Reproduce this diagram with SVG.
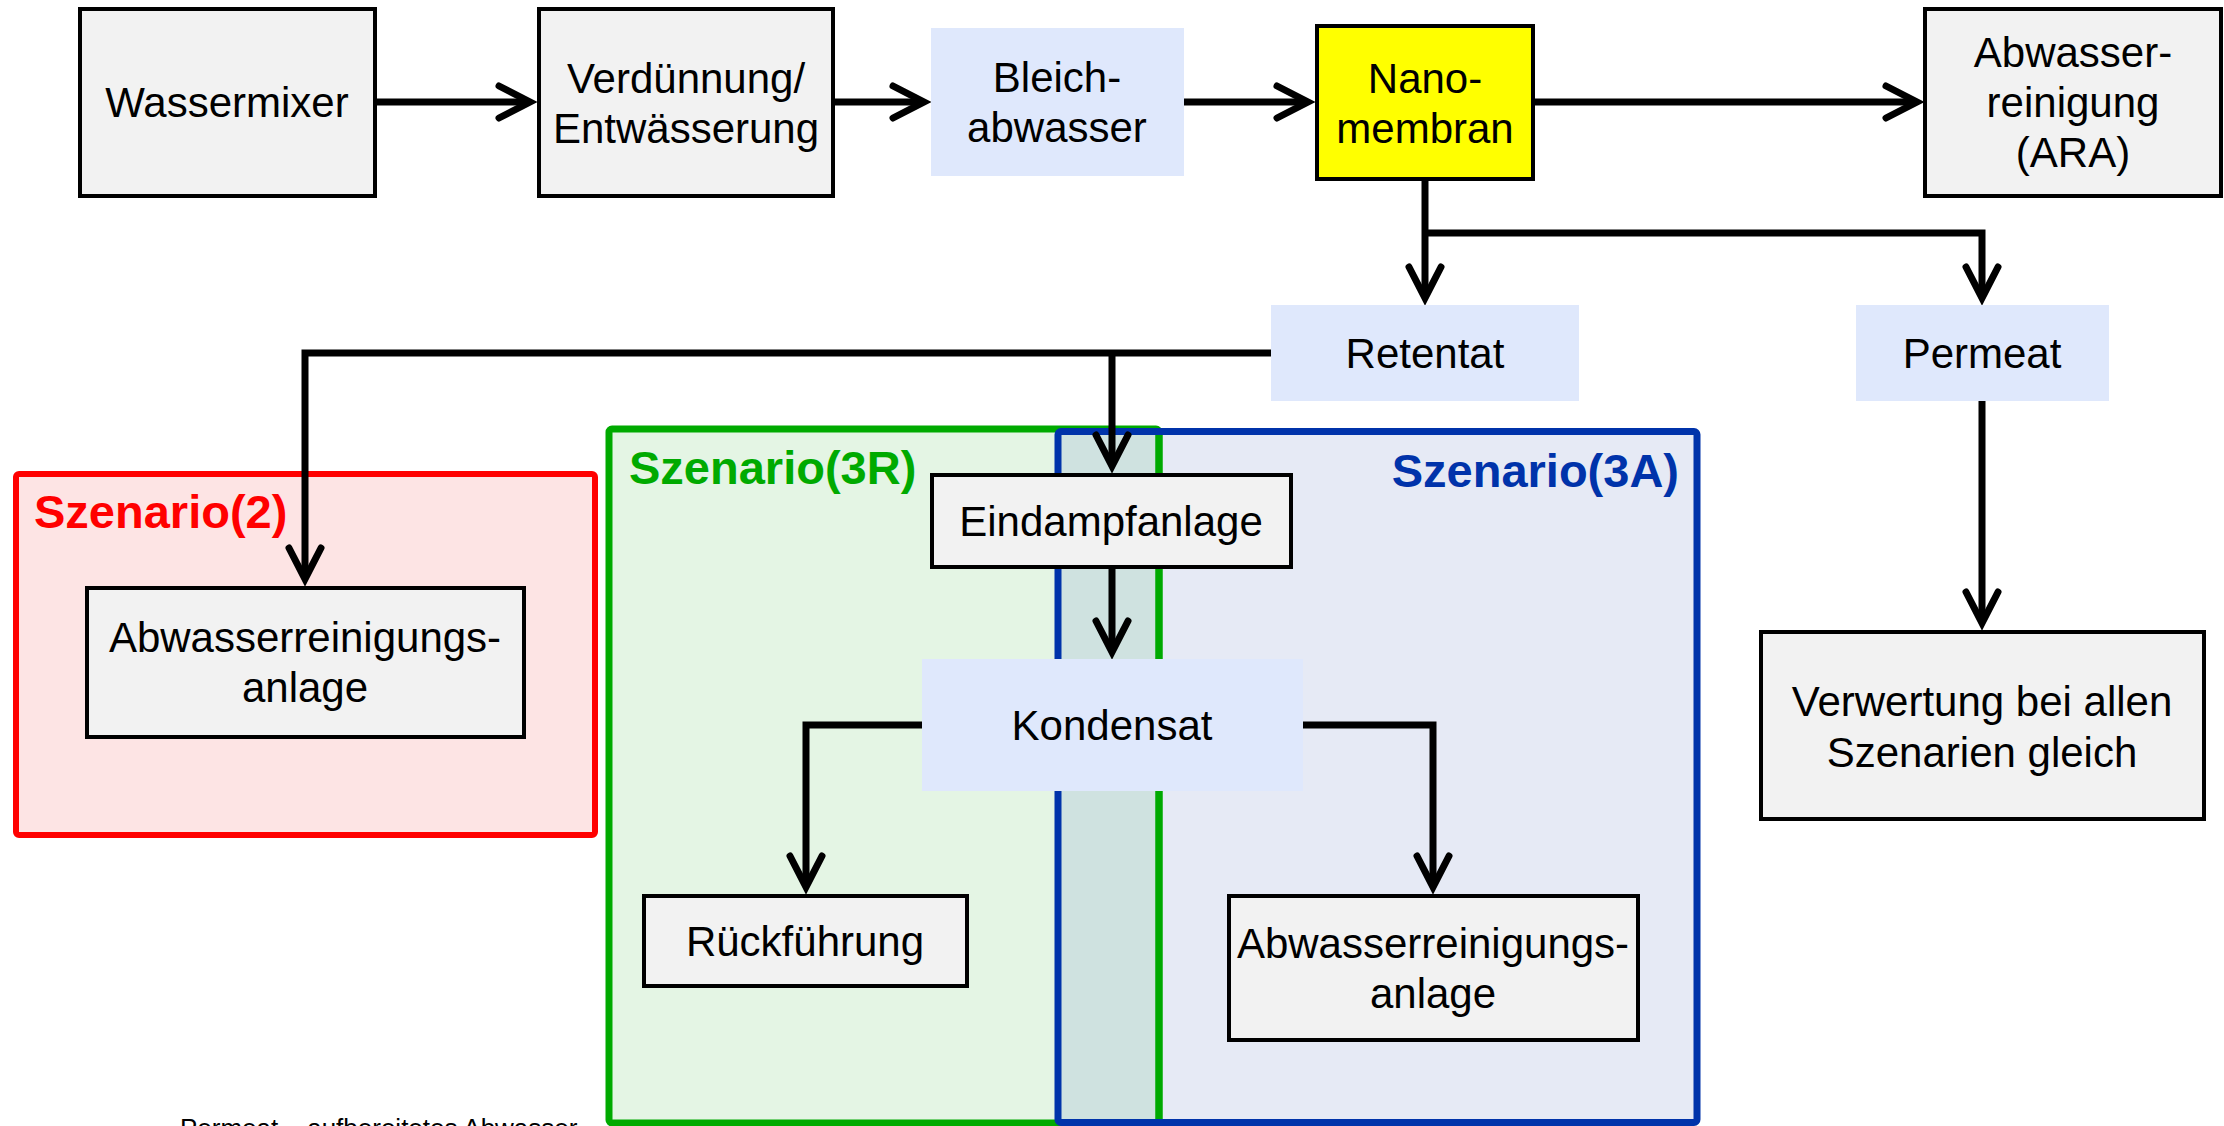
<svg xmlns="http://www.w3.org/2000/svg" width="2224" height="1126" viewBox="0 0 2224 1126">
  <style>
    text { font-family: "Liberation Sans", Arial, sans-serif; fill: #000; }
    .lbl { font-size: 42px; text-anchor: middle; }
    .box { fill: #F2F2F2; stroke: #000; stroke-width: 4; }
    .flow { fill: #DFE8FC; stroke: none; }
    .nano { fill: #FFFF00; stroke: #000; stroke-width: 4; }
    .conn { fill: none; stroke: #000; stroke-width: 7; stroke-linejoin: miter; marker-end: url(#arrow); }
    .scn { font-size: 47px; font-weight: bold; }
  </style>
  <defs>
    <marker id="arrow" markerUnits="userSpaceOnUse" markerWidth="50" markerHeight="50" refX="33" refY="18" orient="auto" overflow="visible">
      <path d="M2,2 L33,18 L2,34" fill="none" stroke="#000" stroke-width="7" stroke-linecap="round" stroke-linejoin="miter"/>
    </marker>
  </defs>

  <rect width="2224" height="1126" fill="#FFFFFF"/>

  <!-- scenario areas -->
  <g id="scenario-2">
    <rect x="16" y="474" width="579" height="361" rx="3" fill="#FDE4E4" stroke="#FF0000" stroke-width="6"/>
    <text class="scn" x="34" y="528" style="fill:#FF0000">Szenario(2)</text>
  </g>
  <g id="scenario-3r-3a">
    <rect x="609" y="429" width="550" height="694" rx="3" fill="#E4F5E4"/>
    <rect x="1058" y="431.5" width="639" height="691" fill="#E6EAF5"/>
    <rect x="1058" y="431.5" width="101" height="691" fill="#CFE2E0"/>
    <rect x="609" y="429" width="550" height="694" rx="3" fill="none" stroke="#00AA00" stroke-width="7"/>
    <rect x="1058" y="431.5" width="639" height="691" rx="3" fill="none" stroke="#0033AA" stroke-width="7"/>
    <line x1="1159" y1="435" x2="1159" y2="1119" stroke="#00AA00" stroke-width="7"/>
    <text class="scn" x="629" y="484" style="fill:#00AA00">Szenario(3R)</text>
    <text class="scn" x="1679" y="487" text-anchor="end" style="fill:#0033AA">Szenario(3A)</text>
  </g>

  <!-- connectors -->
  <g id="connectors">
    <path class="conn" d="M376,102 H530"/>
    <path class="conn" d="M835,102 H924"/>
    <path class="conn" d="M1184,102 H1308"/>
    <path class="conn" d="M1534,102 H1917"/>
    <path class="conn" d="M1425,180 V298"/>
    <path class="conn" d="M1425,233 H1982 V298"/>
    <path class="conn" d="M1271,353 H305 V579"/>
    <path class="conn" d="M1112,353 V466"/>
    <path class="conn" d="M1112,569 V652"/>
    <path class="conn" d="M922,725 H806 V887"/>
    <path class="conn" d="M1303,725 H1433 V887"/>
    <path class="conn" d="M1982,401 V623"/>
  </g>

  <!-- process nodes -->
  <g id="wassermixer">
    <rect class="box" x="80" y="9" width="295" height="187"/>
    <text class="lbl" x="227" y="117">Wassermixer</text>
  </g>
  <g id="verduennung">
    <rect class="box" x="539" y="9" width="294" height="187"/>
    <text class="lbl" x="686" y="93">Verdünnung/</text>
    <text class="lbl" x="686" y="143">Entwässerung</text>
  </g>
  <g id="bleichabwasser">
    <rect class="flow" x="931" y="28" width="253" height="148"/>
    <text class="lbl" x="1057" y="92">Bleich-</text>
    <text class="lbl" x="1057" y="142">abwasser</text>
  </g>
  <g id="nanomembran">
    <rect class="nano" x="1317" y="26" width="216" height="153"/>
    <text class="lbl" x="1425" y="93">Nano-</text>
    <text class="lbl" x="1425" y="143">membran</text>
  </g>
  <g id="ara">
    <rect class="box" x="1925" y="9" width="296" height="187"/>
    <text class="lbl" x="2073" y="67">Abwasser-</text>
    <text class="lbl" x="2073" y="117">reinigung</text>
    <text class="lbl" x="2073" y="167">(ARA)</text>
  </g>
  <g id="retentat">
    <rect class="flow" x="1271" y="305" width="308" height="96"/>
    <text class="lbl" x="1425" y="368">Retentat</text>
  </g>
  <g id="permeat">
    <rect class="flow" x="1856" y="305" width="253" height="96"/>
    <text class="lbl" x="1982" y="368">Permeat</text>
  </g>
  <g id="abwasserreinigungsanlage-2">
    <rect class="box" x="87" y="588" width="437" height="149"/>
    <text class="lbl" x="305" y="652">Abwasserreinigungs-</text>
    <text class="lbl" x="305" y="702">anlage</text>
  </g>
  <g id="eindampfanlage">
    <rect class="box" x="932" y="475" width="359" height="92"/>
    <text class="lbl" x="1111" y="536">Eindampfanlage</text>
  </g>
  <g id="kondensat">
    <rect class="flow" x="922" y="659" width="381" height="132"/>
    <text class="lbl" x="1112" y="740">Kondensat</text>
  </g>
  <g id="rueckfuehrung">
    <rect class="box" x="644" y="896" width="323" height="90"/>
    <text class="lbl" x="805" y="956">Rückführung</text>
  </g>
  <g id="abwasserreinigungsanlage-3a">
    <rect class="box" x="1229" y="896" width="409" height="144"/>
    <text class="lbl" x="1433" y="958">Abwasserreinigungs-</text>
    <text class="lbl" x="1433" y="1008">anlage</text>
  </g>
  <g id="verwertung">
    <rect class="box" x="1761" y="632" width="443" height="187"/>
    <text class="lbl" x="1982" y="716">Verwertung bei allen</text>
    <text class="lbl" x="1982" y="767">Szenarien gleich</text>
  </g>

  <!-- footnote, partly below the lower edge -->
  <text x="180" y="1137" style="font-size:26px">Permeat – aufbereitetes Abwasser</text>
</svg>
